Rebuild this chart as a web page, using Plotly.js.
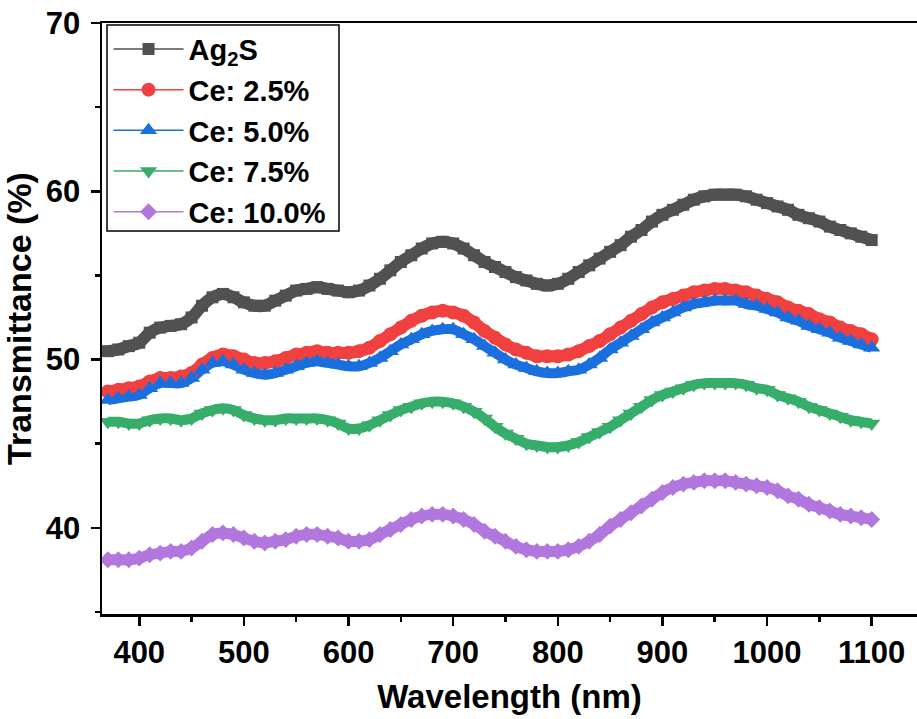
<!DOCTYPE html>
<html><head><meta charset="utf-8">
<script src="https://cdn.plot.ly/plotly-3.0.1.min.js"></script>
<style>html,body{margin:0;padding:0;background:#fff}</style>
</head><body><div id="chart" style="width:917px;height:719px"></div>
<script>
const wavelength = [370,380,390,400,410,420,430,440,450,460,
  470,480,490,500,510,520,530,540,550,560,
  570,580,590,600,610,620,630,640,650,660,
  670,680,690,700,710,720,730,740,750,760,
  770,780,790,800,810,820,830,840,850,860,
  870,880,890,900,910,920,930,940,950,960,
  970,980,990,1000,1010,1020,1030,1040,1050,1060,
  1070,1080,1090,1100];
const ag2s = [50.5,50.6,50.8,51.0,51.6,51.9,52.0,52.1,52.5,53.2,
  53.7,53.9,53.7,53.4,53.2,53.2,53.5,53.8,54.1,54.2,
  54.3,54.2,54.1,54.0,54.1,54.4,54.8,55.3,55.8,56.2,
  56.6,56.9,57.0,56.9,56.6,56.2,55.8,55.5,55.2,54.9,
  54.7,54.5,54.4,54.5,54.8,55.2,55.6,56.0,56.4,56.8,
  57.3,57.7,58.2,58.6,58.9,59.2,59.5,59.7,59.8,59.8,
  59.8,59.7,59.5,59.3,59.1,58.9,58.6,58.4,58.2,57.9,
  57.7,57.5,57.3,57.1];
const ce25 = [48.1,48.2,48.3,48.4,48.7,48.9,48.9,49.0,49.2,49.7,
  50.1,50.3,50.2,50.0,49.8,49.8,49.9,50.1,50.3,50.4,
  50.5,50.4,50.4,50.4,50.5,50.7,51.1,51.5,51.9,52.3,
  52.6,52.8,52.9,52.8,52.6,52.2,51.7,51.3,50.9,50.6,
  50.4,50.2,50.2,50.2,50.3,50.5,50.8,51.1,51.5,51.9,
  52.3,52.7,53.1,53.4,53.6,53.8,54.0,54.1,54.2,54.2,
  54.1,54.0,53.8,53.6,53.4,53.1,52.9,52.7,52.4,52.2,
  51.9,51.7,51.5,51.2];
const ce50 = [47.6,47.7,47.8,47.9,48.3,48.6,48.6,48.6,48.9,49.4,
  49.8,49.9,49.7,49.4,49.2,49.1,49.2,49.4,49.6,49.8,
  49.9,49.8,49.7,49.6,49.6,49.8,50.1,50.5,50.9,51.2,
  51.5,51.7,51.8,51.8,51.5,51.2,50.8,50.4,50.0,49.7,
  49.5,49.3,49.2,49.2,49.3,49.4,49.7,50.1,50.6,51.0,
  51.4,51.8,52.2,52.5,52.8,53.1,53.3,53.4,53.5,53.5,
  53.5,53.3,53.2,53.0,52.8,52.5,52.3,52.0,51.8,51.6,
  51.3,51.1,50.9,50.7];
const ce75 = [46.3,46.3,46.2,46.2,46.4,46.5,46.5,46.4,46.5,46.8,
  47.0,47.1,47.0,46.7,46.5,46.4,46.4,46.5,46.5,46.5,
  46.5,46.4,46.2,45.9,45.9,46.1,46.4,46.7,47.0,47.2,
  47.4,47.5,47.5,47.4,47.2,46.9,46.5,46.0,45.6,45.3,
  45.0,44.9,44.8,44.8,44.9,45.1,45.4,45.7,46.0,46.4,
  46.8,47.2,47.6,47.9,48.1,48.3,48.5,48.6,48.6,48.6,
  48.6,48.5,48.3,48.2,47.9,47.7,47.5,47.2,47.0,46.8,
  46.6,46.4,46.3,46.2];
const ce100 = [38.1,38.1,38.1,38.2,38.4,38.5,38.6,38.6,38.8,39.2,
  39.6,39.7,39.6,39.4,39.2,39.1,39.2,39.3,39.5,39.6,
  39.6,39.5,39.4,39.2,39.2,39.3,39.6,39.9,40.2,40.5,
  40.7,40.8,40.8,40.7,40.5,40.2,39.8,39.5,39.2,38.9,
  38.7,38.6,38.6,38.6,38.7,38.9,39.2,39.6,40.1,40.5,
  40.9,41.3,41.7,42.1,42.4,42.6,42.7,42.8,42.8,42.8,
  42.7,42.6,42.5,42.4,42.2,41.9,41.7,41.4,41.2,41.0,
  40.8,40.7,40.6,40.5];

const seriesNames = ['Ag<sub>2</sub>S','Ce: 2.5%','Ce: 5.0%','Ce: 7.5%','Ce: 10.0%'];
const seriesValues = [ag2s, ce25, ce50, ce75, ce100];
const colors = ['#515151','#F14040','#1A6FDF','#37AD6B','#B177DE'];
const symbols = ['square','circle','triangle-up','triangle-down','diamond'];
const sizes = [12,14,15,15,13];
const bandWidths = [12,12,10,10,11];

const traces = [];
seriesValues.forEach((v,i)=>{
  traces.push({x:wavelength,y:v,mode:'lines',line:{color:colors[i],width:bandWidths[i],shape:'spline'},
    showlegend:false,hoverinfo:'skip'});
});
seriesValues.forEach((v,i)=>{
  traces.push({x:wavelength,y:v,name:seriesNames[i],mode:'lines+markers',
    line:{color:colors[i],width:1.5,shape:'spline'},
    marker:{symbol:symbols[i],size:sizes[i],color:colors[i],line:{width:0}}});
});

const F = 'Liberation Sans, Arial, Helvetica, sans-serif';
const layout = {
  width:917, height:719,
  margin:{l:102,r:0,t:23,b:105,pad:0},
  paper_bgcolor:'#fff', plot_bgcolor:'#fff',
  font:{family:F,color:'#000'},
  showlegend:true,
  xaxis:{range:[364.4,1143.3], tick0:0, dtick:100, ticks:'outside', ticklen:9, tickwidth:2.5, tickcolor:'#000',
    showline:true, linewidth:2.5, linecolor:'#000', mirror:true, showgrid:false, zeroline:false,
    tickfont:{family:F,size:31,color:'#000',weight:'bold'},
    minor:{dtick:50, ticks:'outside', ticklen:5, tickwidth:2.5, tickcolor:'#000', showgrid:false},
    title:{text:'<b>Wavelength (nm)</b>', font:{family:F,size:33,color:'#000'}, standoff:16}},
  yaxis:{range:[34.88,70], tick0:0, dtick:10, ticks:'outside', ticklen:9, tickwidth:2.5, tickcolor:'#000',
    showline:true, linewidth:2.5, linecolor:'#000', mirror:false, showgrid:false, zeroline:false,
    tickfont:{family:F,size:31,color:'#000',weight:'bold'}, ticklabelstandoff:4,
    minor:{dtick:5, ticks:'outside', ticklen:5, tickwidth:2.5, tickcolor:'#000', showgrid:false},
    title:{text:'<b>Transmittance (%)</b>', font:{family:F,size:34,color:'#000'}, standoff:6}},
  legend:{x:0.008,y:0.999,xanchor:'left',yanchor:'top',bgcolor:'rgba(0,0,0,0)',borderwidth:0,
    font:{family:F,size:29,color:'#000',weight:'bold'}, itemwidth:70, tracegroupgap:0},
  shapes:[{type:'rect',xref:'paper',yref:'paper',
    x0:(107-102)/815, x1:(339-102)/815, y0:1-(231-23)/591, y1:1-(25-23)/591,
    line:{color:'#000',width:1.5}, fillcolor:'rgba(0,0,0,0)', layer:'above'}]
};
Plotly.newPlot('chart', traces, layout, {displayModeBar:false, staticPlot:true});
</script></body></html>
